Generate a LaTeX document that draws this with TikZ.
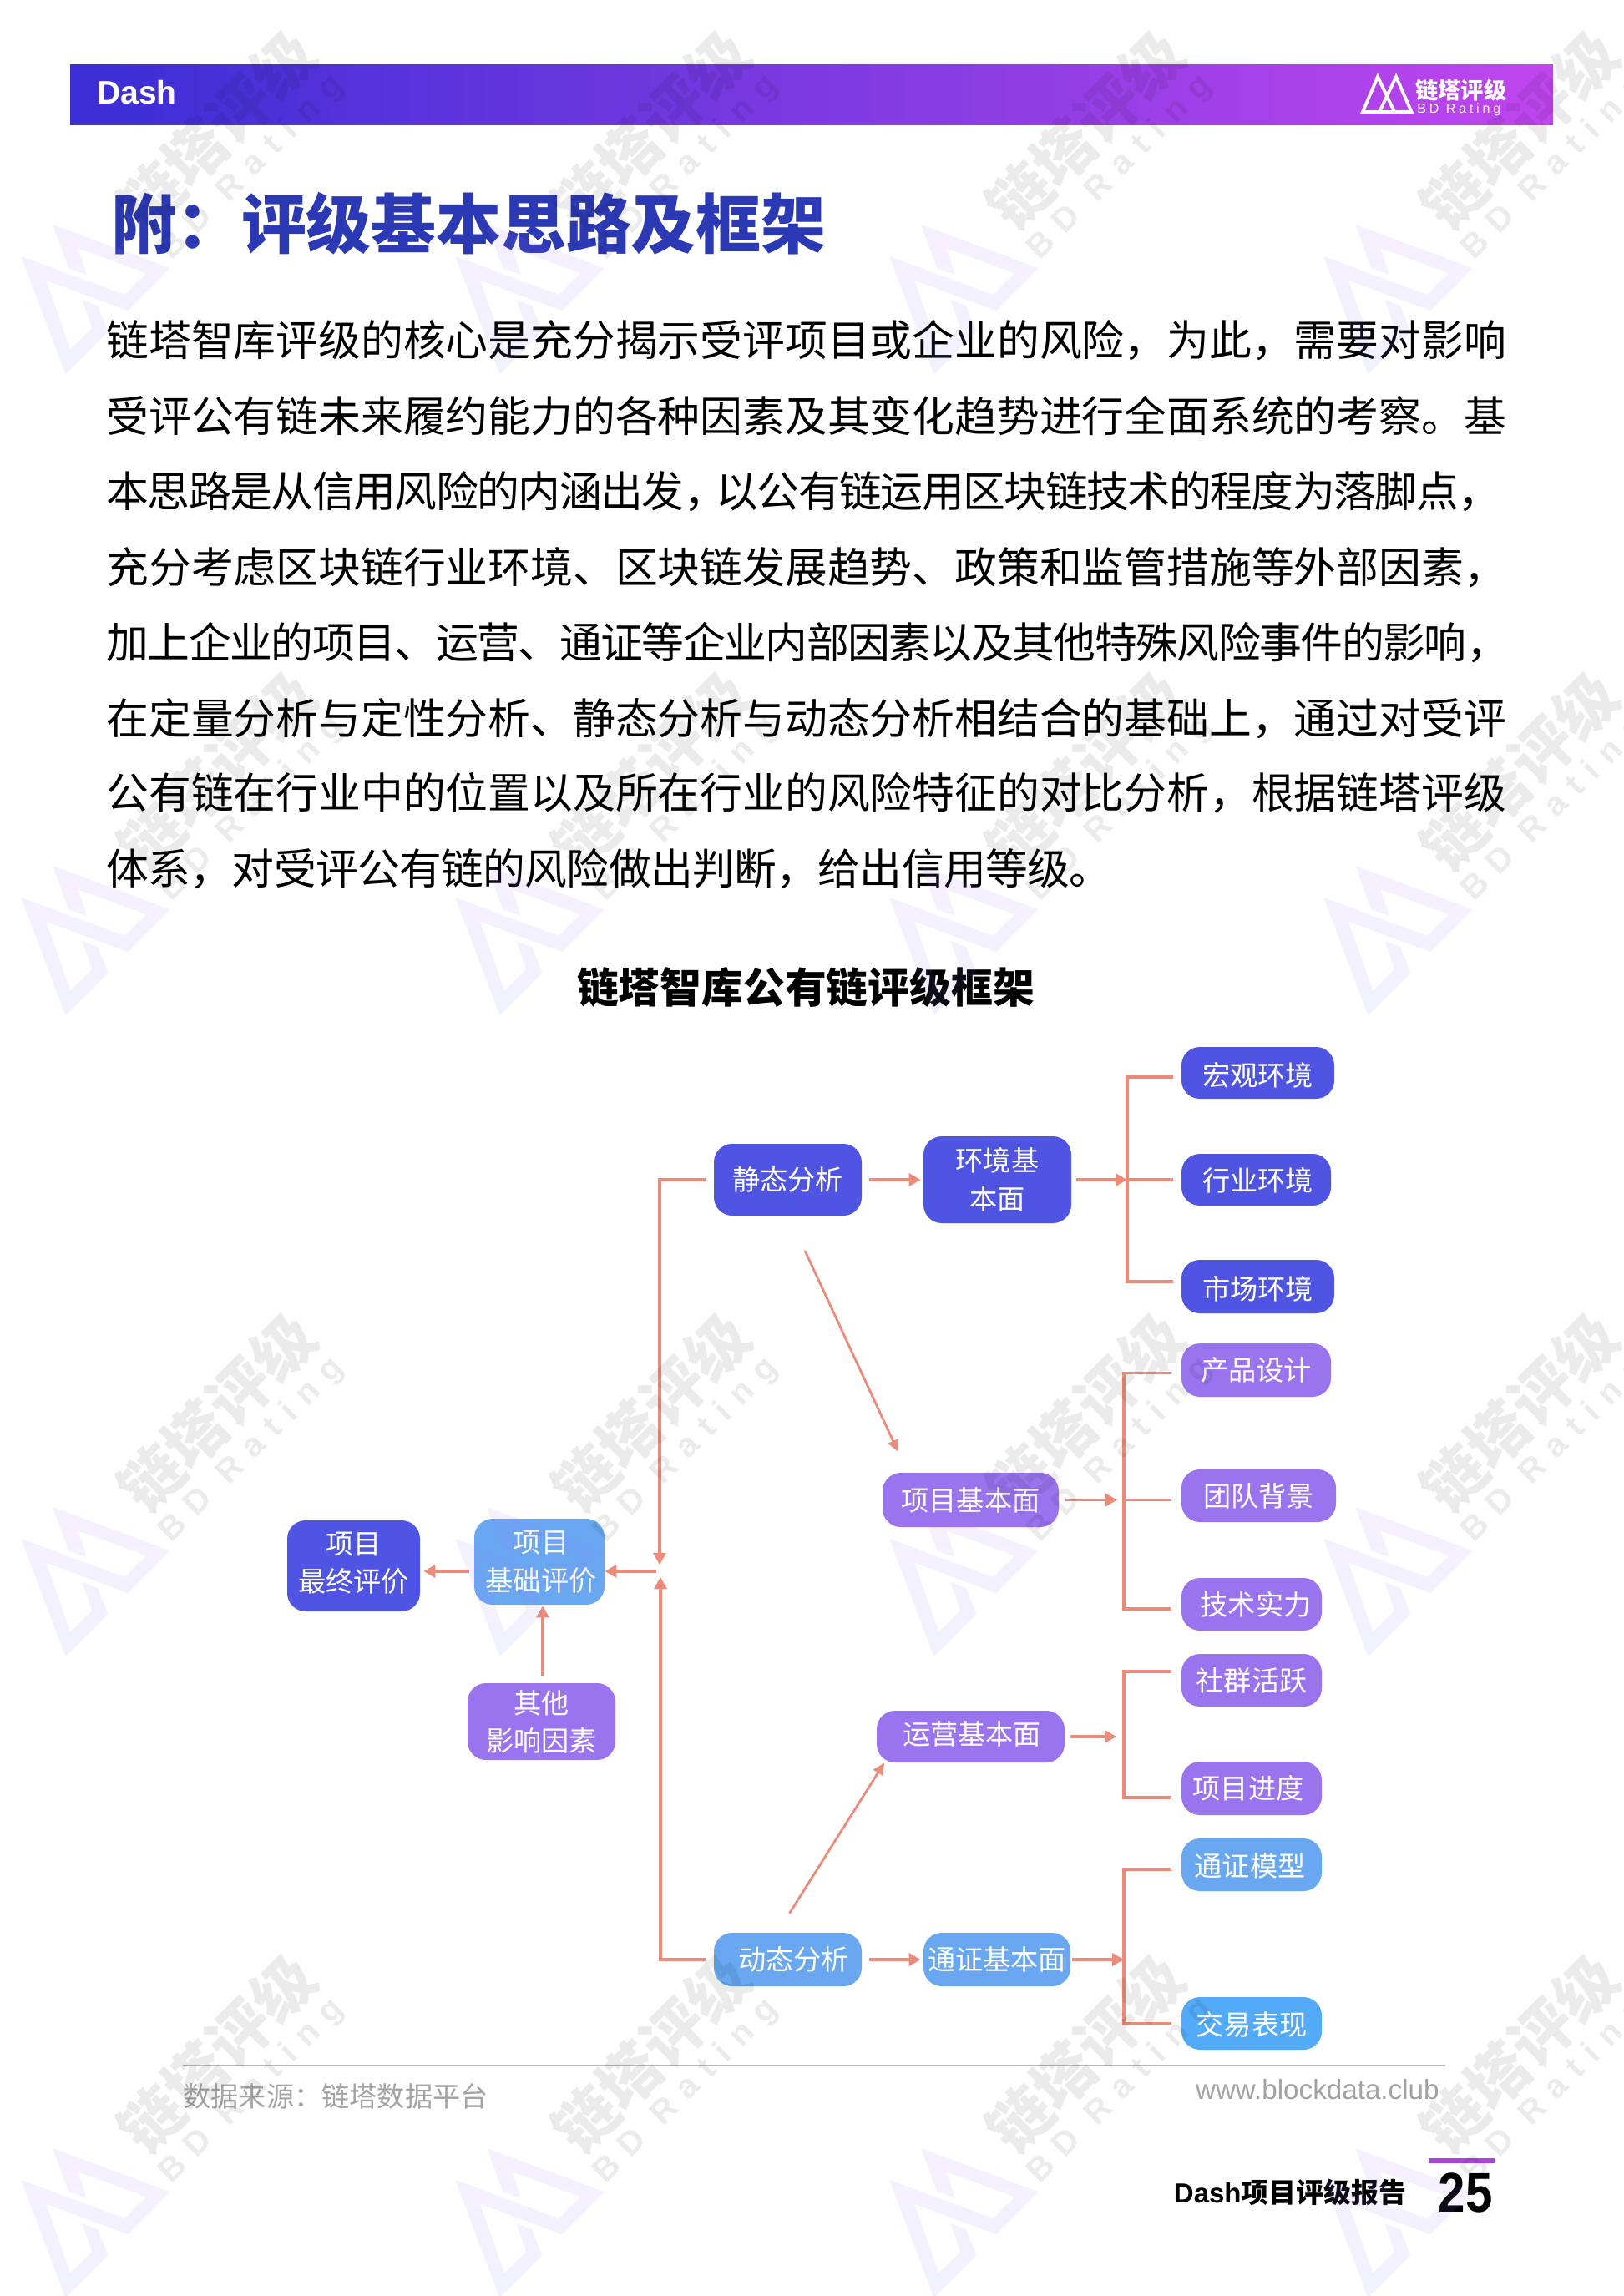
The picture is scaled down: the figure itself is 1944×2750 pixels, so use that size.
\documentclass[tikz,border=0pt]{standalone}
\usepackage{fontspec}
\usetikzlibrary{arrows.meta,calc}
\setmainfont{Noto Sans CJK SC}
\newfontfamily\tightcjk[LetterSpace=-2.9]{Noto Sans CJK SC}
\newfontfamily\slightcjk[LetterSpace=-1.3]{Noto Sans CJK SC}
\newfontfamily\lat{Liberation Sans}
\newfontfamily\latwide[LetterSpace=24]{Liberation Sans}
\newfontfamily\latwm[LetterSpace=36]{Liberation Sans}
\definecolor{cindigo}{HTML}{4F55E2}
\definecolor{cpurple}{HTML}{9A74EE}
\definecolor{cblue}{HTML}{69A8F1}
\definecolor{cbright}{HTML}{52AAF8}
\definecolor{clink}{HTML}{EC8B7A}
\definecolor{ctitle}{HTML}{2C39B4}
\definecolor{cgrey}{HTML}{A3A3A3}
\definecolor{cbarL}{HTML}{3A2ED4}
\definecolor{cbarR}{HTML}{C046EE}
\definecolor{cmark}{HTML}{A845E0}
\definecolor{cwmtop}{HTML}{B070FF}
\definecolor{cwmbot}{HTML}{7F85F5}
\tikzset{
  flow/.style={rectangle,rounded corners=11pt,inner sep=0pt,text=white,align=center,
    font=\fontsize{16.6}{22.8}\selectfont},
  findigo/.style={flow,fill=cindigo},
  fpurple/.style={flow,fill=cpurple},
  fblue/.style={flow,fill=cblue},
  fbright/.style={flow,fill=cbright},
  conn/.style={draw=clink,line width=1.9pt},
  arr/.style={conn,-{Triangle[length=7pt,width=7.5pt]}},
  thinarr/.style={draw=clink,line width=1.4pt,-{Triangle[length=7pt,width=6.5pt]}},
  bodyline/.style={anchor=base west,inner sep=0pt,text=black,font=\fontsize{25.4}{30}\selectfont},
  tightline/.style={anchor=base west,inner sep=0pt,text=black,font=\tightcjk\fontsize{25.4}{30}\selectfont},
  slightline/.style={anchor=base west,inner sep=0pt,text=black,font=\slightcjk\fontsize{25.4}{30}\selectfont},
  plain/.style={inner sep=0pt},
}
\newcommand\bx[7]{%
  \pgfmathsetmacro\boxCX{(#2+#4)/2}\pgfmathsetmacro\boxCY{(#3+#5)/2}%
  \pgfmathsetmacro\boxW{(#4-#2)/2}\pgfmathsetmacro\boxH{(#5-#3)/2}%
  \node[#6,minimum width=\boxW pt,minimum height=\boxH pt] (#1) at (\boxCX,\boxCY) {#7};}
\newcommand\hc{\makebox[0.75em][l]{，}}
\newcommand\nudge[2]{\raisebox{#1}[\height][\depth]{#2}}
\begin{document}
\begin{tikzpicture}[x=0.5pt,y=-0.5pt]
\useasboundingbox (0,0) rectangle (1944,2750);
\fill[white] (0,0) rectangle (1944,2750);
% header
\shade[left color=cbarL,right color=cbarR] (84,78) rectangle (1860,150);
\node[plain,anchor=west,text=white,font=\lat\bfseries\fontsize{19.5}{22}\selectfont] (dash) at (116,111) {Dash};
\draw[white,line width=1.9pt,line join=miter] (1650,92) -- (1632,134) -- (1670,134) -- cycle;
\draw[white,line width=1.9pt,line join=miter] (1672,92) -- (1690.5,134) -- (1652,134) -- cycle;
\node[plain,anchor=west,text=white,font=\bfseries\fontsize{13.6}{15}\selectfont] (brand) at (1695,108) {链塔评级};
\node[plain,anchor=west,text=white,font=\latwide\fontsize{8}{9}\selectfont] (brandEn) at (1697,131) {BD Rating};
% title
\node[plain,anchor=west,text=ctitle,font=\bfseries\fontsize{38.9}{42}\selectfont] (title) at (133,268) {附：评级基本思路及框架};
% body
\node[bodyline] (l1) at (127,426) {链塔智库评级的核心是充分揭示受评项目或企业的风险，为此，需要对影响};
\node[bodyline] (l2) at (127,517) {受评公有链未来履约能力的各种因素及其变化趋势进行全面系统的考察。基};
\node[tightline] (l3) at (127,607) {本思路是从信用风险的内涵出发\hc 以公有链运用区块链技术的程度为落脚点\hc};
\node[bodyline] (l4) at (127,698) {充分考虑区块链行业环境、区块链发展趋势、政策和监管措施等外部因素，};
\node[tightline] (l5) at (127,788) {加上企业的项目、运营、通证等企业内部因素以及其他特殊风险事件的影响\hc};
\node[bodyline] (l6) at (127,879) {在定量分析与定性分析、静态分析与动态分析相结合的基础上，通过对受评};
\node[bodyline] (l7) at (127,968) {公有链在行业中的位置以及所在行业的风险特征的对比分析，根据链塔评级};
\node[slightline] (l8) at (127,1059) {体系，对受评公有链的风险做出判断，给出信用等级。};
\node[plain,text=black,font=\bfseries\fontsize{24.9}{28}\selectfont] (ctitle) at (965,1182) {链塔智库公有链评级框架};
% nodes
\bx{sa}{855}{1370}{1032}{1456}{findigo}{静态分析}
\bx{env}{1106}{1361}{1283}{1465}{findigo}{环境基\\本面}
\bx{hg}{1415}{1254}{1598}{1316}{findigo}{\nudge{-1.5pt}{宏观环境}}
\bx{hy}{1415}{1382}{1594}{1444}{findigo}{\hspace*{2pt}\nudge{-0.5pt}{行业环境}}
\bx{sc}{1415}{1509}{1598}{1573}{findigo}{\nudge{-1.5pt}{市场环境}}
\bx{cp}{1415}{1609}{1594}{1673}{fpurple}{产品设计}
\bx{td}{1415}{1760}{1600}{1823}{fpurple}{团队背景}
\bx{js}{1415}{1890}{1583}{1953}{fpurple}{\hspace*{5pt}技术实力}
\bx{xm}{1057}{1764}{1268}{1829}{fpurple}{项目基本面}
\bx{zz}{344}{1821}{503}{1930}{findigo}{\nudge{1.7pt}{项目}\\\nudge{1.7pt}{最终评价}}
\bx{jc}{568}{1819}{724}{1922}{fblue}{\hspace*{2pt}项目\\\hspace*{2pt}基础评价}
\bx{qt}{560}{2016}{737}{2108}{fpurple}{\nudge{-0.5pt}{其他}\\影响因素}
\bx{sq}{1415}{1981}{1583}{2044}{fpurple}{社群活跃}
\bx{jd}{1415}{2110}{1583}{2174}{fpurple}{项目进度\hspace*{4pt}}
\bx{yy}{1050}{2049}{1275}{2111}{fpurple}{\hspace*{1.5pt}\nudge{1.5pt}{运营基本面}}
\bx{tm}{1415}{2202}{1583}{2265}{fblue}{\nudge{-0.7pt}{通证模型}\hspace*{2pt}}
\bx{jb}{1415}{2392}{1583}{2455}{fbright}{\nudge{-0.7pt}{交易表现}}
\bx{da}{855}{2315}{1032}{2379}{fblue}{\hspace*{7pt}动态分析}
\bx{tz}{1106}{2315}{1282}{2379}{fblue}{通证基本面}
% junctions
\coordinate (hubU) at (790,1874);
\coordinate (hubD) at (791,1889);
\coordinate (hubS) at (785.5,1882);
\coordinate (jE) at (1350,1413);
\coordinate (jX) at (1346,1796.5);
\coordinate (jXa) at (1338,1796.5);
\coordinate (jY) at (1346,2080);
\coordinate (jYa) at (1337,2080);
\coordinate (jT) at (1346,2347);
% connectors
\draw[arr] ([xshift=-5pt]sa.west) -| (hubU);
\draw[arr] ([xshift=-5pt]da.west) -| (hubD);
\draw[arr] (hubS) -- ([yshift=-5.75pt]jc.east);
\draw[arr] ([shift={(-2.75pt,-5.75pt)}]jc.west) -- ([shift={(2pt,-3.25pt)}]zz.east);
\draw[arr] ([shift={(0.75pt,4.5pt)}]qt.north) -- ([shift={(0.75pt,-0.5pt)}]qt.north |- jc.south);
\draw[arr] ([xshift=4.5pt]sa.east) -- ([xshift=-1.5pt]env.west);
\draw[arr] ([xshift=3pt]env.east) -- (jE);
\draw[conn] ([shift={(-5pt,-2.5pt)}]hg.west) -| (jE) |- ([shift={(-5pt,3pt)}]sc.west);
\draw[conn] (jE) -- ([xshift=-5pt]hy.west);
\draw[thinarr] ([shift={(10.25pt,-20.75pt)}]sa.south) -- ([shift={(-43.5pt,12.5pt)}]xm.north);
\draw[arr] ([xshift=4pt]xm.east) -- (jXa);
\draw[conn] ([shift={(-6pt,-1.75pt)}]cp.west) -| (jX) |- ([shift={(-6pt,-2.75pt)}]js.west);
\draw[conn] (jX) -- ([shift={(-6pt,-2.5pt)}]td.west);
\draw[arr] ([xshift=3.5pt]yy.east) -- (jYa);
\draw[conn] ([shift={(-6pt,5.25pt)}]sq.west) -| (jY) |- ([shift={(-6pt,-5.5pt)}]jd.west);
\draw[thinarr] ([shift={(1pt,11.5pt)}]da.north) -- ([xshift=-51.75pt]yy.south);
\draw[arr] ([xshift=4.5pt]da.east) -- ([xshift=-1.5pt]tz.west);
\draw[arr] ([xshift=0.75pt]tz.east) -- (jT);
\draw[conn] ([shift={(-6pt,-2.75pt)}]tm.west) -| (jT) |- ([xshift=-6pt]jb.west);
% footer
\draw[draw=black!30,line width=0.9pt] (219,2474) -- (1731,2474);
\node[plain,anchor=west,text=cgrey,font=\fontsize{16.6}{19}\selectfont] (src) at (219,2511) {数据来源：链塔数据平台};
\node[plain,anchor=east,text=cgrey,font=\lat\fontsize{16.6}{19}\selectfont] (url) at (1724,2503) {www.blockdata.club};
\fill[cmark] (1711,2585) rectangle (1790,2591);
\node[plain,anchor=east,text=black,font=\bfseries\fontsize{16.5}{19}\selectfont] (rep) at (1685,2626) {{\lat\bfseries Dash}项目评级报告};
\node[plain,text=black,xscale=0.87,font=\lat\bfseries\fontsize{33.5}{36}\selectfont] (pg) at (1755,2626) {25};
% watermark
\begin{scope}
\clip (0,0) rectangle (1944,2750);
\foreach \k in {0,1,2,3}{\foreach \i in {0,1,2,3}{
  \begin{scope}[shift={(\i*520,{(\k-2)*768})}]
    \shade[top color=cwmtop,bottom color=cwmbot,opacity=0.10]
      (63.3,1805) -- (204,1857.3) -- (153.3,1908.3) -- (55,1871.7) -- (84.3,1954.3) -- (110,1928.3)
      -- (98.3,1895) -- (116.7,1901.7) -- (129.3,1933.3) -- (78.3,1984) -- (25,1842.7) -- (149,1889)
      -- (175,1863.3) -- (93.3,1833.3) -- (104,1865) -- (82.3,1857.3) -- cycle;
    \node[plain,rotate=45,text=black,text opacity=0.08,font=\bfseries\fontsize{37}{40}\selectfont] at (260,1692) {链塔评级};
    \node[plain,rotate=45,text=black,text opacity=0.08,font=\latwm\bfseries\fontsize{20}{22}\selectfont] at (302,1737) {BD Rating};
  \end{scope}
}}
\end{scope}
\end{tikzpicture}
\end{document}
